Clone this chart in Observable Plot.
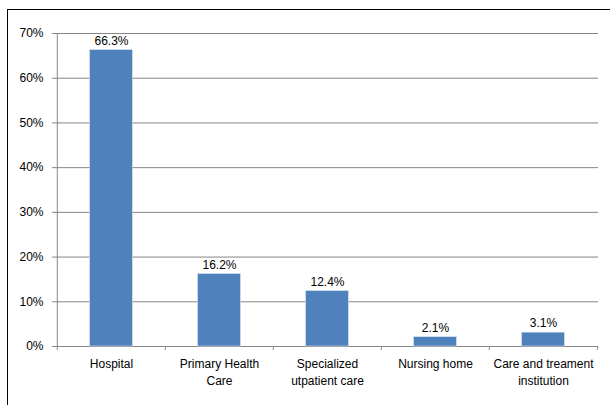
<!DOCTYPE html>
<html>
<head>
<meta charset="utf-8">
<script src="https://cdn.jsdelivr.net/npm/d3@7"></script>
<script src="https://cdn.jsdelivr.net/npm/@observablehq/plot@0.6"></script>
<style>
  html, body { margin: 0; padding: 0; background: #fff; }
  #wrap { position: relative; width: 610px; height: 405px; overflow: hidden; }
  #frame { position: absolute; left: 7px; top: 9px; width: 700px; height: 500px; border: 1.5px solid #000; box-sizing: border-box; pointer-events: none; }
</style>
</head>
<body>
<div id="wrap"><div id="frame"></div></div>
<script>
const categories = ["Hospital", "Primary Health\nCare", "Specialized\nutpatient care", "Nursing home", "Care and treament\ninstitution"];
const values = [0.663, 0.162, 0.124, 0.021, 0.031];
const valueLabels = ["66.3%", "16.2%", "12.4%", "2.1%", "3.1%"];
const yTicks = [0, 0.1, 0.2, 0.3, 0.4, 0.5, 0.6, 0.7];

const data = categories.map((c, i) => ({category: c, value: values[i], label: valueLabels[i]}));

const W = 610, H = 405, ML = 56, MR = 12, MT = 33, MB = 59;
const step = (W - ML - MR) / categories.length;
const font = "'Liberation Sans', Arial, sans-serif";
const grey = "#868686";

const chart = Plot.plot({
  width: W,
  height: H,
  marginLeft: ML,
  marginRight: MR,
  marginTop: MT,
  marginBottom: MB,
  style: {fontFamily: font, fontSize: "12px", color: "#000", background: "transparent"},
  x: {domain: categories, padding: 0, label: null},
  y: {domain: [0, 0.7], label: null},
  marks: [
    Plot.ruleY(yTicks, {y: d => d, stroke: grey, strokeWidth: 1}),
    Plot.ruleX([categories[0]], {x: d => d, dx: -step / 2, y1: 0, y2: 0.7, stroke: grey}),
    Plot.ruleX(categories, {x: d => d, dx: -step / 2, y1: 0, y2: 0, insetBottom: -4, stroke: grey}),
    Plot.ruleX([categories[categories.length - 1]], {x: d => d, dx: step / 2, y1: 0, y2: 0, insetBottom: -4, stroke: grey}),
    Plot.barY(data, {x: "category", y: "value", fill: "#4F81BD", stroke: "#dce6f2", strokeWidth: 0.6, insetLeft: step * 0.3, insetRight: step * 0.3}),
    Plot.text(data, {x: "category", y: "value", text: "label", dy: -9, fontSize: 12, fill: "#000"}),
    Plot.axisY({ticks: yTicks, tickFormat: d3.format(".0%"), tickSize: 4, tickPadding: 9, stroke: grey, fontSize: 12, label: null, anchor: "left"}),
    Plot.axisX({tickSize: 0, tickPadding: 10, fontSize: 12, label: null, lineHeight: 1.4, tickFormat: d => d})
  ]
});
document.getElementById("wrap").insertBefore(chart, document.getElementById("frame"));
</script>
</body>
</html>
